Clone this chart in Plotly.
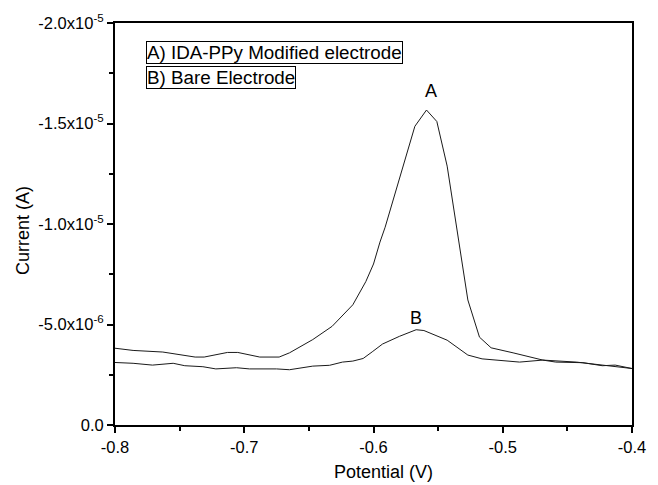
import plotly.graph_objects as go

# Curve A: IDA-PPy modified electrode
pot_a = [-0.800, -0.786, -0.763, -0.738, -0.731, -0.713, -0.705, -0.688, -0.673, -0.665,
         -0.647, -0.632, -0.616, -0.606, -0.600, -0.595, -0.591, -0.577, -0.568, -0.559,
         -0.551, -0.543, -0.527, -0.518, -0.509, -0.492, -0.469, -0.443, -0.413, -0.400]
cur_a = [-3.82e-6, -3.71e-6, -3.63e-6, -3.38e-6, -3.38e-6, -3.61e-6, -3.61e-6, -3.38e-6, -3.38e-6, -3.59e-6,
         -4.25e-6, -4.91e-6, -5.98e-6, -7.13e-6, -8.01e-6, -9.10e-6, -9.84e-6, -1.288e-5, -1.486e-5, -1.567e-5,
         -1.510e-5, -1.288e-5, -6.22e-6, -4.37e-6, -3.84e-6, -3.59e-6, -3.23e-6, -3.13e-6, -2.89e-6, -2.81e-6]

# Curve B: bare electrode
pot_b = [-0.800, -0.786, -0.771, -0.755, -0.746, -0.732, -0.722, -0.706, -0.696, -0.675,
         -0.665, -0.647, -0.634, -0.624, -0.616, -0.608, -0.601, -0.593, -0.580, -0.567,
         -0.561, -0.543, -0.527, -0.516, -0.487, -0.469, -0.459, -0.438, -0.423, -0.413, -0.400]
cur_b = [-3.11e-6, -3.07e-6, -2.98e-6, -3.07e-6, -2.95e-6, -2.90e-6, -2.79e-6, -2.85e-6, -2.79e-6, -2.79e-6,
         -2.75e-6, -2.93e-6, -2.97e-6, -3.13e-6, -3.18e-6, -3.31e-6, -3.64e-6, -4.03e-6, -4.41e-6, -4.74e-6,
         -4.70e-6, -4.22e-6, -3.48e-6, -3.29e-6, -3.13e-6, -3.23e-6, -3.13e-6, -3.10e-6, -2.95e-6, -2.98e-6, -2.81e-6]

x_ticks = [-0.8, -0.7, -0.6, -0.5, -0.4]
x_ticktext = ["-0.8", "-0.7", "-0.6", "-0.5", "-0.4"]
x_minor = [-0.75, -0.65, -0.55, -0.45]
y_ticks = [0.0, -5e-6, -1e-5, -1.5e-5, -2e-5]
y_ticktext = ["0.0", "-5.0x10<sup>-6</sup>", "-1.0x10<sup>-5</sup>",
              "-1.5x10<sup>-5</sup>", "-2.0x10<sup>-5</sup>"]
y_minor = [-2.5e-6, -7.5e-6, -1.25e-5, -1.75e-5]

legend_texts = ["A) IDA-PPy Modified electrode", "B) Bare Electrode"]
peak_labels = [("A", -0.5555, -1.66e-5), ("B", -0.567, -5.3e-6)]
x_title = "Potential (V)"
y_title = "Current (A)"

FONT = "Liberation Sans, Arial, sans-serif"

fig = go.Figure()
fig.add_trace(go.Scatter(x=pot_a, y=cur_a, mode="lines",
                         line=dict(color="#1a1a1a", width=1), showlegend=False))
fig.add_trace(go.Scatter(x=pot_b, y=cur_b, mode="lines",
                         line=dict(color="#1a1a1a", width=1), showlegend=False))

for txt, xv, yv in peak_labels:
    fig.add_annotation(x=xv, y=yv, text=txt, showarrow=False, xref="x", yref="y",
                       font=dict(family=FONT, size=18, color="black"))

legend_y = [0.955, 0.892]
for txt, yy in zip(legend_texts, legend_y):
    fig.add_annotation(x=0.06, y=yy, xref="paper", yref="paper", text=txt,
                       showarrow=False, xanchor="left", yanchor="top",
                       bordercolor="black", borderwidth=1, borderpad=0,
                       font=dict(family=FONT, size=18.8, color="black"))

fig.add_annotation(x=0.519, y=-0.116, xref="paper", yref="paper", text=x_title,
                   showarrow=False, xanchor="center", yanchor="middle",
                   font=dict(family=FONT, size=18, color="black"))
fig.add_annotation(x=-0.178, y=0.485, xref="paper", yref="paper", text=y_title,
                   showarrow=False, xanchor="center", yanchor="middle", textangle=-90,
                   font=dict(family=FONT, size=18, color="black"))

fig.update_layout(
    width=658, height=485,
    margin=dict(l=115, r=25, t=19, b=60),
    paper_bgcolor="white", plot_bgcolor="white",
    font=dict(family=FONT, size=16, color="black"),
    xaxis=dict(
        range=[-0.8, -0.4], tickmode="array", tickvals=x_ticks, ticktext=x_ticktext,
        ticks="outside", ticklen=6, tickwidth=1.5, tickcolor="black",
        showline=True, linewidth=2, linecolor="black", mirror=True,
        showgrid=False, zeroline=False,
        minor=dict(tickvals=x_minor, ticks="outside", ticklen=4, tickwidth=1.5, tickcolor="black", showgrid=False),
        tickfont=dict(family=FONT, size=16.5),
    ),
    yaxis=dict(
        range=[0, -2e-5], tickmode="array", tickvals=y_ticks, ticktext=y_ticktext,
        ticks="outside", ticklen=6, tickwidth=1.5, tickcolor="black",
        showline=True, linewidth=2, linecolor="black", mirror=True,
        showgrid=False, zeroline=False,
        minor=dict(tickvals=y_minor, ticks="outside", ticklen=4, tickwidth=1.5, tickcolor="black", showgrid=False),
        tickfont=dict(family=FONT, size=16.5),
    ),
)

fig.write_html("out.html")
